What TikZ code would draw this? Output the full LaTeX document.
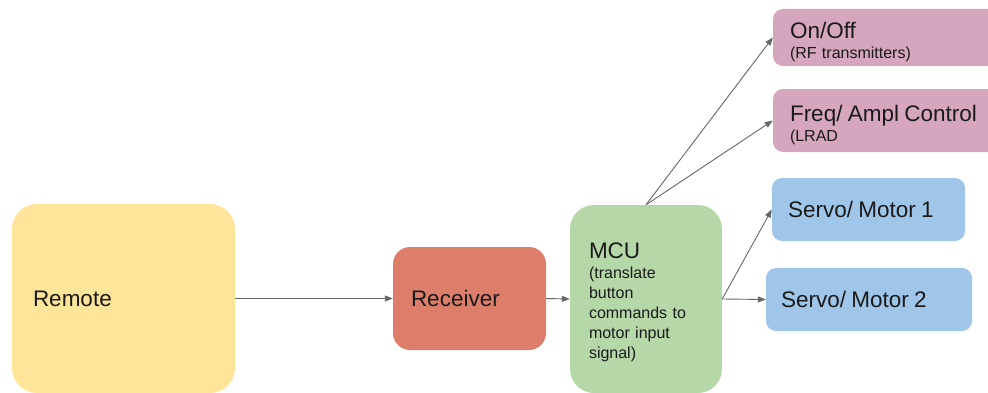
\documentclass[tikz,border=0pt]{standalone}
\usepackage{fontspec}
\setmainfont{Liberation Sans}
\usetikzlibrary{arrows.meta}

\definecolor{cremote}{HTML}{FFE599}
\definecolor{creceiver}{HTML}{DD7E6B}
\definecolor{cmcu}{HTML}{B6D7A8}
\definecolor{cpink}{HTML}{D5A6BD}
\definecolor{cblue}{HTML}{9FC5E8}
\definecolor{clink}{HTML}{666666}
\definecolor{ctext}{HTML}{1A1A1A}

% large first line; the optional strut lowers a multi-line block a little
\newcommand{\titletext}[2][0pt]{{\fontsize{22.5}{26}\selectfont\rule{0pt}{#1}#2}}

\tikzset{
  box/.style={draw=none, align=left, inner ysep=0pt, text=ctext,
              font=\fontsize{16}{20}\selectfont},
  link/.style={draw=clink, line width=0.9pt, -{Triangle[length=8pt,width=6pt]}},
}

\begin{document}
\begin{tikzpicture}[x=1pt, y=1pt]
  \useasboundingbox (0,0) rectangle (988,392);
  \clip (0,0) rectangle (988,392);

  % input side
  \node[box, fill=cremote, rounded corners=25pt, minimum width=223pt,
        minimum height=189pt, inner xsep=21pt, text width=181pt]
        (remote) at (123.5,93.5) {\titletext{Remote}};
  \node[box, fill=creceiver, rounded corners=17pt, minimum width=153pt,
        minimum height=103pt, inner xsep=18pt, text width=117pt]
        (receiver) at (469.5,93.5) {\titletext{Receiver}};
  \node[box, fill=cmcu, rounded corners=24pt, minimum width=152pt,
        minimum height=188pt, inner xsep=19pt, text width=114pt]
        (mcu) at (646,93) {\titletext[23pt]{MCU}\\(translate\\button\\commands to\\motor input\\signal)};

  % outputs
  \node[box, fill=cpink, rounded corners=10pt, minimum width=237pt,
        minimum height=57pt, inner xsep=17pt, text width=203pt]
        (onoff) at (891.5,354.5) {\titletext[25pt]{On/Off}\\(RF transmitters)};
  \node[box, fill=cpink, rounded corners=10pt, minimum width=237pt,
        minimum height=63pt, inner xsep=17pt, text width=203pt]
        (freq) at (891.5,271.5) {\titletext[25pt]{Freq/ Ampl Control}\\(LRAD};
  \node[box, fill=cblue, rounded corners=10pt, minimum width=193pt,
        minimum height=63pt, inner xsep=16pt, text width=161pt]
        (servoa) at (868.5,182.5) {\titletext{Servo/ Motor 1}};
  \node[box, fill=cblue, rounded corners=10pt, minimum width=206pt,
        minimum height=63pt, inner xsep=15pt, text width=176pt]
        (servob) at (869,92.5) {\titletext{Servo/ Motor 2}};

  % signal flow
  \draw[link] (remote.east) -- (receiver.west);
  \draw[link] (receiver.east) -- (mcu.west);
  \draw[link] (mcu.north) -- (onoff.west);
  \draw[link] (mcu.north) -- (freq.west);
  \draw[link] (mcu.east) -- (servoa.west);
  \draw[link] (mcu.east) -- (servob.west);
\end{tikzpicture}
\end{document}
